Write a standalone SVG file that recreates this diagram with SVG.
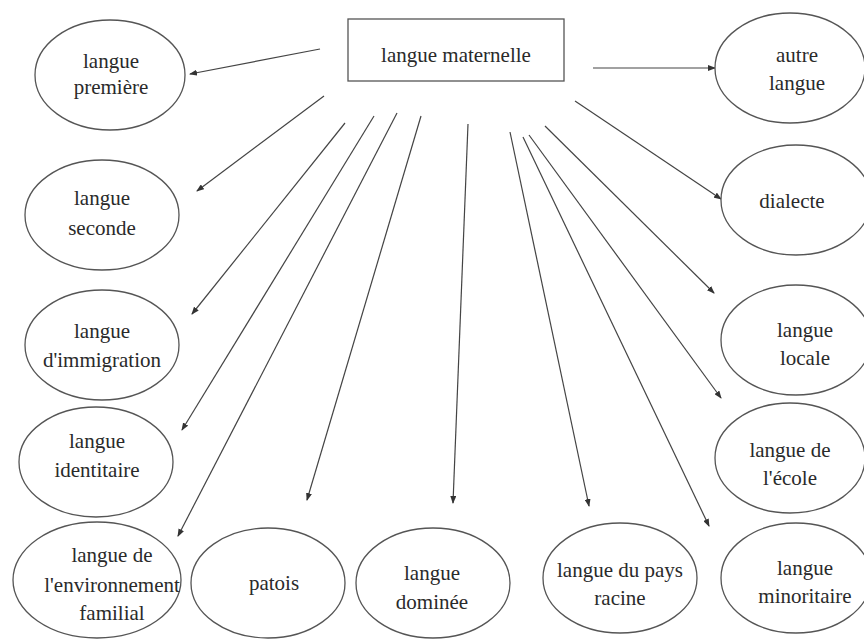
<svg xmlns="http://www.w3.org/2000/svg" width="864" height="639" viewBox="0 0 864 639">
<defs>
<marker id="ah" markerWidth="8" markerHeight="6" refX="7" refY="3" orient="auto" markerUnits="userSpaceOnUse">
<path d="M0,0 L8,3 L0,6 z" fill="#333"/>
</marker>
<style>
.n{fill:#fff;stroke:#555;stroke-width:1.3}
.t{font-family:'Liberation Serif','Times New Roman',serif;font-size:21px;fill:#2a2a2a;text-anchor:middle}
.c{stroke:#444;stroke-width:1.2;fill:none;marker-end:url(#ah)}
</style>
</defs>
<rect width="864" height="639" fill="#fff"/>
<g id="connectors">
<line class="c" x1="320" y1="49" x2="190" y2="74"/>
<line class="c" x1="593" y1="68" x2="715" y2="68"/>
<line class="c" x1="324" y1="96" x2="197" y2="191"/>
<line class="c" x1="575" y1="101" x2="721" y2="199"/>
<line class="c" x1="345" y1="123" x2="192" y2="314"/>
<line class="c" x1="374" y1="116" x2="182" y2="430"/>
<line class="c" x1="397" y1="113" x2="178" y2="536"/>
<line class="c" x1="421" y1="116" x2="307" y2="500"/>
<line class="c" x1="468" y1="124" x2="453" y2="503"/>
<line class="c" x1="510" y1="132" x2="589" y2="506"/>
<line class="c" x1="523" y1="137" x2="709" y2="526"/>
<line class="c" x1="529" y1="135" x2="721" y2="398"/>
<line class="c" x1="545" y1="126" x2="714" y2="293"/>
</g>
<g id="langue-maternelle">
<rect class="n" x="348" y="19" width="216" height="62"/>
<text class="t" x="456" y="62">langue maternelle</text>
</g>
<g id="langue-premiere">
<ellipse class="n" cx="110" cy="75" rx="75" ry="55"/>
<text class="t" x="111" y="68">langue</text>
<text class="t" x="111" y="94">première</text>
</g>
<g id="autre-langue">
<ellipse class="n" cx="790" cy="68" rx="75" ry="55"/>
<text class="t" x="797" y="62">autre</text>
<text class="t" x="797" y="90">langue</text>
</g>
<g id="langue-seconde">
<ellipse class="n" cx="102" cy="215" rx="77" ry="55"/>
<text class="t" x="102" y="205">langue</text>
<text class="t" x="102" y="235">seconde</text>
</g>
<g id="dialecte">
<ellipse class="n" cx="796" cy="200" rx="75" ry="55"/>
<text class="t" x="792" y="208">dialecte</text>
</g>
<g id="langue-immigration">
<ellipse class="n" cx="102" cy="345" rx="77" ry="55"/>
<text class="t" x="102" y="338">langue</text>
<text class="t" x="102" y="367">d'immigration</text>
</g>
<g id="langue-locale">
<ellipse class="n" cx="796" cy="340" rx="75" ry="55"/>
<text class="t" x="805" y="337">langue</text>
<text class="t" x="805" y="365">locale</text>
</g>
<g id="langue-identitaire">
<ellipse class="n" cx="96" cy="462" rx="77" ry="55"/>
<text class="t" x="97" y="448">langue</text>
<text class="t" x="97" y="477">identitaire</text>
</g>
<g id="langue-ecole">
<ellipse class="n" cx="790" cy="458" rx="75" ry="55"/>
<text class="t" x="790" y="457">langue de</text>
<text class="t" x="790" y="485">l'école</text>
</g>
<g id="langue-environnement-familial">
<ellipse class="n" cx="97" cy="580" rx="84" ry="58"/>
<text class="t" x="112" y="562">langue de</text>
<text class="t" x="112" y="592">l'environnement</text>
<text class="t" x="112" y="620">familial</text>
</g>
<g id="patois">
<ellipse class="n" cx="268" cy="583" rx="77" ry="55"/>
<text class="t" x="274" y="590">patois</text>
</g>
<g id="langue-dominee">
<ellipse class="n" cx="433" cy="583" rx="77" ry="55"/>
<text class="t" x="432" y="580">langue</text>
<text class="t" x="432" y="609">dominée</text>
</g>
<g id="langue-pays-racine">
<ellipse class="n" cx="620" cy="578" rx="77" ry="55"/>
<text class="t" x="620" y="577">langue du pays</text>
<text class="t" x="620" y="605">racine</text>
</g>
<g id="langue-minoritaire">
<ellipse class="n" cx="796" cy="578" rx="75" ry="55"/>
<text class="t" x="805" y="575">langue</text>
<text class="t" x="805" y="603">minoritaire</text>
</g>
</svg>
